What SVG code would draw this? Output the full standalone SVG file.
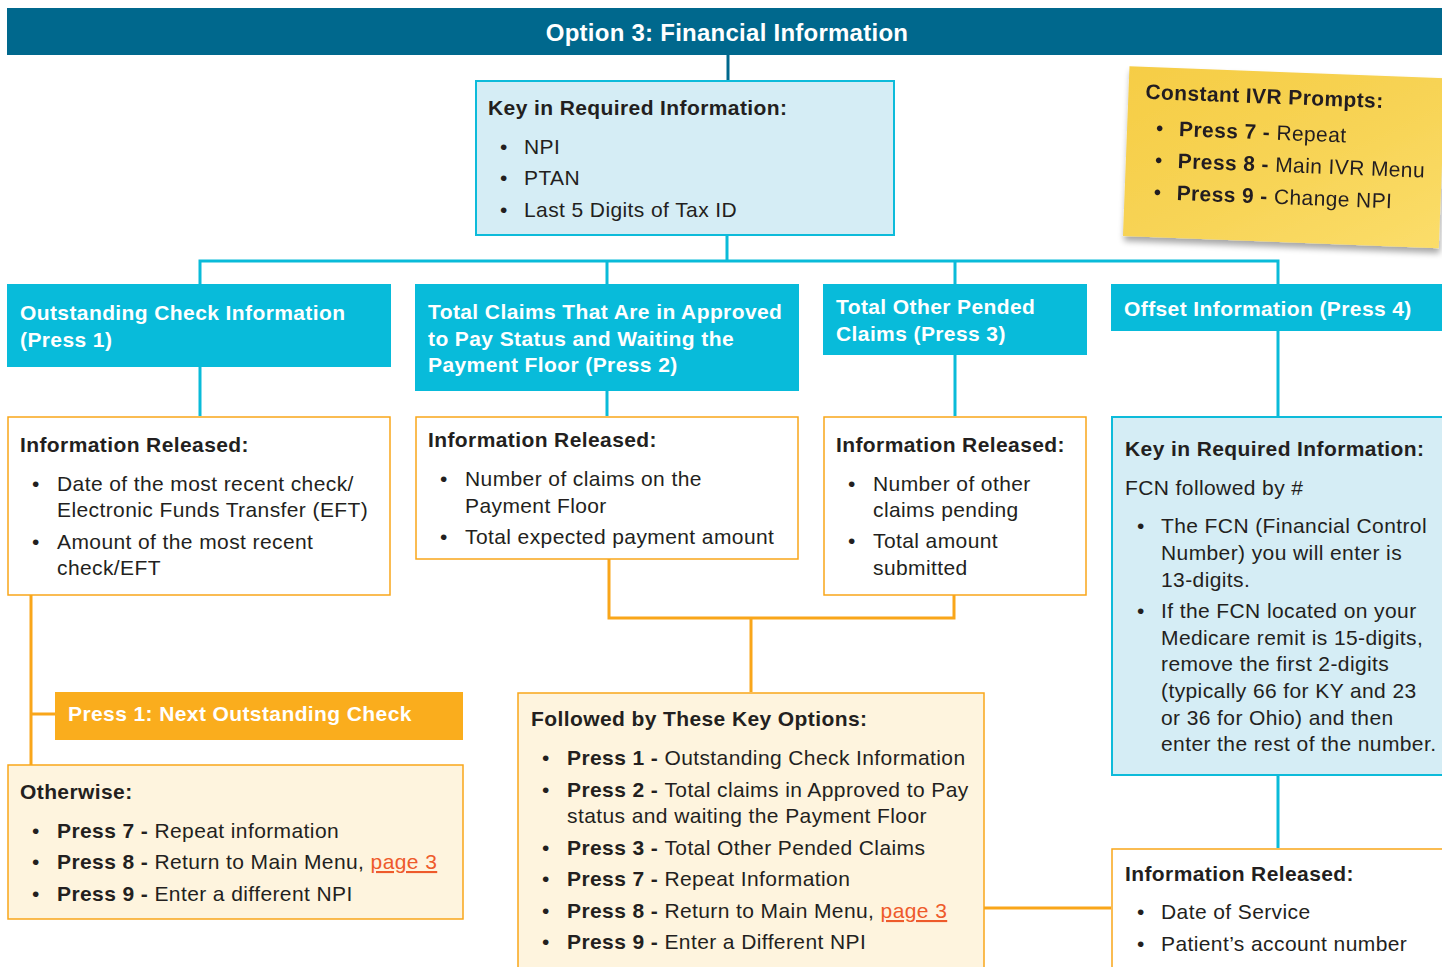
<svg xmlns="http://www.w3.org/2000/svg" width="1442" height="967" viewBox="0 0 1442 967">
<defs>
<linearGradient id="sticky" x1="0" y1="0" x2="1" y2="1">
<stop offset="0" stop-color="#F6CD45"/>
<stop offset="0.5" stop-color="#F7D354"/>
<stop offset="1" stop-color="#FBDD6A"/>
</linearGradient>
<filter id="shadow" x="-10%" y="-10%" width="130%" height="140%">
<feGaussianBlur in="SourceAlpha" stdDeviation="3"/>
<feOffset dx="1" dy="5" result="b"/>
<feComponentTransfer><feFuncA type="linear" slope="0.35"/></feComponentTransfer>
<feMerge><feMergeNode/><feMergeNode in="SourceGraphic"/></feMerge>
</filter>
</defs>
<style>
text{font-family:"Liberation Sans",Arial,sans-serif;fill:#231F20;font-size:21px;letter-spacing:0.4px}
.b{font-weight:bold}
.w{fill:#fff;font-weight:bold}
.hdr{fill:#00688D}
.cy{fill:#08BBDA}
.kb{fill:#D5EDF5;stroke:#0DBBDA;stroke-width:2}
.ib{fill:#fff;stroke:#F9A61A;stroke-width:1.5}
.ob{fill:#FEF4DE;stroke:#F9A61A;stroke-width:1.5}
.lnc{stroke:#0ABBD9;stroke-width:3;fill:none}
.lno{stroke:#F9A61A;stroke-width:3;fill:none}
.lk{fill:#EE5A2B;text-decoration:underline}
</style>

<g id="connectors">
<line x1="728" y1="55" x2="728" y2="81" stroke="#00688D" stroke-width="3"/>
<path class="lnc" d="M727 235V261M200 284V261H1278V284M607 261V284M955 261V284"/>
<path class="lnc" d="M200 367V416M607 391V416M955 355V416M1278 331V416M1278 775V848"/>
<path class="lno" d="M609 559V618H954V595M751 618V692"/>
<path class="lno" d="M31 595V765M31 714H55"/>
<path class="lno" d="M984 908H1111"/>
</g>

<g id="header">
<rect class="hdr" x="7" y="8" width="1435" height="47"/>
<text class="w" x="727" y="41" text-anchor="middle" style="font-size:24px;letter-spacing:0.25px">Option 3: Financial Information</text>
</g>

<g id="key-required">
<rect class="kb" x="476" y="81" width="418" height="154"/>
<text class="b" x="488" y="115">Key in Required Information:</text>
<text x="500" y="154">•</text><text x="524" y="154">NPI</text>
<text x="500" y="185">•</text><text x="524" y="185">PTAN</text>
<text x="500" y="217">•</text><text x="524" y="217">Last 5 Digits of Tax ID</text>
</g>

<g id="sticky-note" filter="url(#shadow)">
<g transform="rotate(2.2 1280 160)">
<rect x="1126" y="72" width="316" height="170" fill="url(#sticky)"/>
<text class="b" x="1143" y="104">Constant IVR Prompts:</text>
<text x="1155" y="140">•</text><text x="1178" y="140"><tspan class="b">Press 7 - </tspan>Repeat</text>
<text x="1155" y="172">•</text><text x="1178" y="172"><tspan class="b">Press 8 - </tspan>Main IVR Menu</text>
<text x="1155" y="204">•</text><text x="1178" y="204"><tspan class="b">Press 9 - </tspan>Change NPI</text>
</g>
</g>

<g id="opt1">
<rect class="cy" x="7" y="284" width="384" height="83"/>
<text class="w" x="20" y="320">Outstanding Check Information</text>
<text class="w" x="20" y="347">(Press 1)</text>
</g>
<g id="opt2">
<rect class="cy" x="415" y="284" width="384" height="107"/>
<text class="w" x="428" y="319">Total Claims That Are in Approved</text>
<text class="w" x="428" y="346">to Pay Status and Waiting the</text>
<text class="w" x="428" y="372">Payment Floor (Press 2)</text>
</g>
<g id="opt3">
<rect class="cy" x="823" y="284" width="264" height="71"/>
<text class="w" x="836" y="314">Total Other Pended</text>
<text class="w" x="836" y="341">Claims (Press 3)</text>
</g>
<g id="opt4">
<rect class="cy" x="1111" y="284" width="331" height="47"/>
<text class="w" x="1124" y="316">Offset Information (Press 4)</text>
</g>

<g id="info1">
<rect class="ib" x="8" y="417" width="382" height="178"/>
<text class="b" x="20" y="452">Information Released:</text>
<text x="32" y="491">•</text><text x="57" y="491">Date of the most recent check/</text>
<text x="57" y="517">Electronic Funds Transfer (EFT)</text>
<text x="32" y="549">•</text><text x="57" y="549">Amount of the most recent</text>
<text x="57" y="575">check/EFT</text>
</g>
<g id="info2">
<rect class="ib" x="416" y="417" width="382" height="142"/>
<text class="b" x="428" y="447">Information Released:</text>
<text x="440" y="486">•</text><text x="465" y="486">Number of claims on the</text>
<text x="465" y="513">Payment Floor</text>
<text x="440" y="544">•</text><text x="465" y="544">Total expected payment amount</text>
</g>
<g id="info3">
<rect class="ib" x="824" y="417" width="262" height="178"/>
<text class="b" x="836" y="452">Information Released:</text>
<text x="848" y="491">•</text><text x="873" y="491">Number of other</text>
<text x="873" y="517">claims pending</text>
<text x="848" y="548">•</text><text x="873" y="548">Total amount</text>
<text x="873" y="575">submitted</text>
</g>

<g id="offset-key">
<rect class="kb" x="1112" y="417" width="332" height="358"/>
<text class="b" x="1125" y="456">Key in Required Information:</text>
<text x="1125" y="495">FCN followed by #</text>
<text x="1137" y="533">•</text><text x="1161" y="533">The FCN (Financial Control</text>
<text x="1161" y="560">Number) you will enter is</text>
<text x="1161" y="587">13-digits.</text>
<text x="1137" y="618">•</text><text x="1161" y="618">If the FCN located on your</text>
<text x="1161" y="645">Medicare remit is 15-digits,</text>
<text x="1161" y="671">remove the first 2-digits</text>
<text x="1161" y="698">(typically 66 for KY and 23</text>
<text x="1161" y="725">or 36 for Ohio) and then</text>
<text x="1161" y="751">enter the rest of the number.</text>
</g>

<g id="offset-info">
<rect class="ib" x="1112" y="849" width="332" height="120"/>
<text class="b" x="1125" y="881">Information Released:</text>
<text x="1137" y="919">•</text><text x="1161" y="919">Date of Service</text>
<text x="1137" y="951">•</text><text x="1161" y="951">Patient’s account number</text>
</g>

<g id="next-check">
<rect x="55" y="692" width="408" height="48" fill="#FAAD1D"/>
<text class="w" x="68" y="721">Press 1: Next Outstanding Check</text>
</g>

<g id="otherwise">
<rect class="ob" x="8" y="765" width="455" height="154"/>
<text class="b" x="20" y="799">Otherwise:</text>
<text x="32" y="838">•</text><text x="57" y="838"><tspan class="b">Press 7 - </tspan>Repeat information</text>
<text x="32" y="869">•</text><text x="57" y="869"><tspan class="b">Press 8 - </tspan>Return to Main Menu, <tspan class="lk">page 3</tspan></text>
<text x="32" y="901">•</text><text x="57" y="901"><tspan class="b">Press 9 - </tspan>Enter a different NPI</text>
</g>

<g id="key-options">
<rect class="ob" x="518" y="693" width="466" height="276"/>
<text class="b" x="531" y="726">Followed by These Key Options:</text>
<text x="542" y="765">•</text><text x="567" y="765"><tspan class="b">Press 1 - </tspan>Outstanding Check Information</text>
<text x="542" y="797">•</text><text x="567" y="797"><tspan class="b">Press 2 - </tspan>Total claims in Approved to Pay</text>
<text x="567" y="823">status and waiting the Payment Floor</text>
<text x="542" y="855">•</text><text x="567" y="855"><tspan class="b">Press 3 - </tspan>Total Other Pended Claims</text>
<text x="542" y="886">•</text><text x="567" y="886"><tspan class="b">Press 7 - </tspan>Repeat Information</text>
<text x="542" y="918">•</text><text x="567" y="918"><tspan class="b">Press 8 - </tspan>Return to Main Menu, <tspan class="lk">page 3</tspan></text>
<text x="542" y="949">•</text><text x="567" y="949"><tspan class="b">Press 9 - </tspan>Enter a Different NPI</text>
</g>
</svg>
